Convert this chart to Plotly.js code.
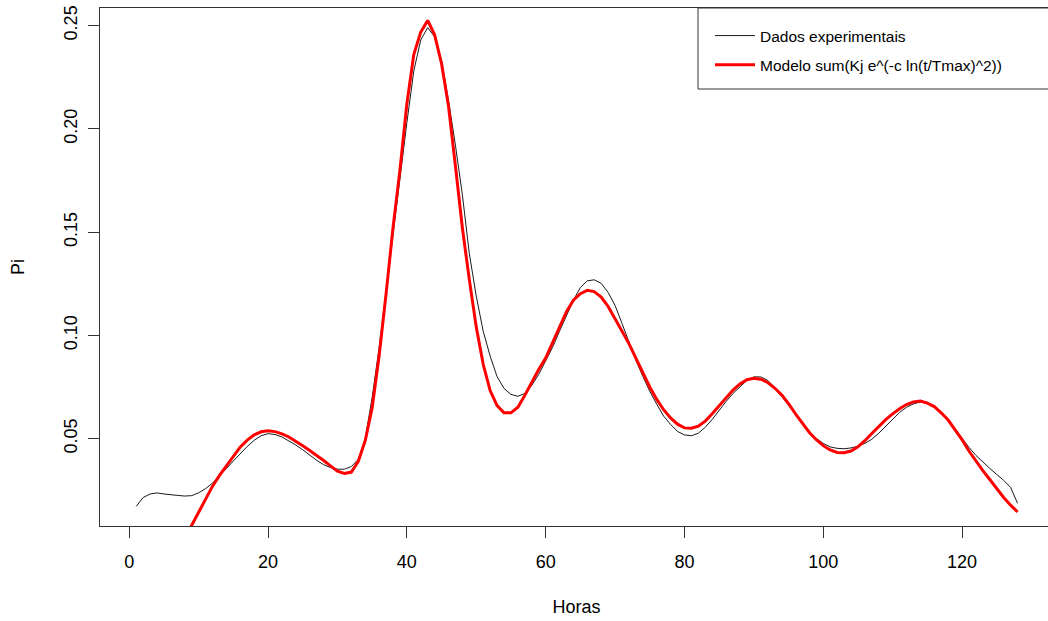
<!DOCTYPE html>
<html>
<head>
<meta charset="utf-8">
<script src="https://cdn.plot.ly/plotly-3.0.1.min.js"></script>
<style>
html, body { margin: 0; padding: 0; overflow: hidden; background: #fff; }
#chart { width: 1056px; height: 621px; }
</style>
</head>
<body>
<div id="chart"></div>
<script>
// Hours (x values)
const horas = Array.from({length: 128}, (_, i) => i + 1);

const dadosExperimentais = [
  0.0172, 0.0215, 0.0232, 0.0237, 0.0232, 0.0227, 0.0225, 0.0222, 0.0224, 0.0238,
  0.0258, 0.0285, 0.0318, 0.0355, 0.0392, 0.0428, 0.0462, 0.0492, 0.0514, 0.0524,
  0.0520, 0.0508, 0.0490, 0.0469, 0.0446, 0.0420, 0.0395, 0.0374, 0.0360, 0.0352,
  0.0352, 0.0365, 0.0400, 0.0500, 0.0700, 0.0940, 0.1220, 0.1500, 0.1780, 0.2030,
  0.2280, 0.2430, 0.2490, 0.2445, 0.2333, 0.2138, 0.1920, 0.1680, 0.1396, 0.1190,
  0.1020, 0.0900, 0.0800, 0.0743, 0.0714, 0.0705, 0.0719, 0.0758, 0.0811, 0.0874,
  0.0942, 0.1020, 0.1092, 0.1170, 0.1232, 0.1264, 0.1269, 0.1252, 0.1208, 0.1145,
  0.1058, 0.0966, 0.0879, 0.0802, 0.0729, 0.0667, 0.0609, 0.0569, 0.0535, 0.0518,
  0.0514, 0.0526, 0.0555, 0.0593, 0.0637, 0.0680, 0.0719, 0.0753, 0.0782, 0.0799,
  0.0799, 0.0782, 0.0748, 0.0705, 0.0661, 0.0613, 0.0574, 0.0535, 0.0501, 0.0477,
  0.0460, 0.0453, 0.0451, 0.0455, 0.0463, 0.0477, 0.0497, 0.0526, 0.0560, 0.0593,
  0.0627, 0.0652, 0.0668, 0.0678, 0.0676, 0.0656, 0.0622, 0.0584, 0.0545, 0.0501,
  0.0458, 0.0419, 0.0385, 0.0356, 0.0327, 0.0298, 0.0264, 0.0187
];

// Model sum(Kj e^(-c ln(t/Tmax)^2)), t = 1..128
const modelo = [
  0.0001, 0.0002, 0.0004, 0.0006, 0.0009, 0.0013, 0.0018, 0.0025, 0.0081, 0.0145,
  0.0210, 0.0270, 0.0322, 0.0370, 0.0418, 0.0460, 0.0493, 0.0518, 0.0533, 0.0538,
  0.0534, 0.0523, 0.0508, 0.0488, 0.0465, 0.0442, 0.0419, 0.0394, 0.0368, 0.0342,
  0.0331, 0.0338, 0.0390, 0.0490, 0.0650, 0.0900, 0.1200, 0.1520, 0.1800, 0.2120,
  0.2360, 0.2468, 0.2525, 0.2455, 0.2315, 0.2110, 0.1820, 0.1520, 0.1270, 0.1040,
  0.0860, 0.0733, 0.0660, 0.0625, 0.0625, 0.0652, 0.0710, 0.0775, 0.0835, 0.0890,
  0.0965, 0.1040, 0.1115, 0.1170, 0.1202, 0.1218, 0.1212, 0.1185, 0.1140, 0.1080,
  0.1020, 0.0960, 0.0890, 0.0820, 0.0750, 0.0690, 0.0640, 0.0600, 0.0570, 0.0552,
  0.0550, 0.0560, 0.0585, 0.0620, 0.0660, 0.0700, 0.0735, 0.0765, 0.0785, 0.0792,
  0.0788, 0.0772, 0.0745, 0.0712, 0.0670, 0.0620, 0.0573, 0.0530, 0.0495, 0.0466,
  0.0445, 0.0433, 0.0432, 0.0440, 0.0460, 0.0490, 0.0525, 0.0560, 0.0592, 0.0620,
  0.0645, 0.0665, 0.0678, 0.0682, 0.0672, 0.0655, 0.0625, 0.0590, 0.0545, 0.0495,
  0.0440, 0.0390, 0.0345, 0.0302, 0.0258, 0.0215, 0.0178, 0.0145
];

const xTicks = [0, 20, 40, 60, 80, 100, 120];
const yTicks = [0.05, 0.10, 0.15, 0.20, 0.25];
const yTickLabels = ["0.05", "0.10", "0.15", "0.20", "0.25"];

const FONT = "Liberation Sans, Arial, Helvetica, sans-serif";

const traces = [
  {
    x: horas, y: dadosExperimentais, type: "scatter", mode: "lines",
    name: "Dados experimentais", legendgroup: "a",
    line: {color: "#1a1a1a", width: 1}
  },
  {
    x: horas, y: modelo, type: "scatter", mode: "lines",
    name: "Modelo sum(Kj e^(-c ln(t/Tmax)^2))", legendgroup: "b",
    line: {color: "#ff0000", width: 3}
  }
];

const W = 1056, H = 621;
const ML = 100, MR = 3, MT = 8, MB = 95;
const PW = W - ML - MR, PH = H - MT - MB;
function px2paperX(px) { return (px - ML) / PW; }
function px2paperY(py) { return 1 - (py - MT) / PH; }

const layout = {
  width: W, height: H,
  margin: {l: ML, r: MR, t: MT, b: MB, pad: 0},
  paper_bgcolor: "#ffffff", plot_bgcolor: "#ffffff",
  font: {family: FONT, size: 18, color: "#000"},
  showlegend: true,
  legend: {
    x: px2paperX(710), y: px2paperY(19), xanchor: "left", yanchor: "top",
    bgcolor: "rgba(0,0,0,0)", borderwidth: 0,
    font: {family: FONT, size: 15.5, color: "#000"},
    traceorder: "grouped", tracegroupgap: 6, itemwidth: 40
  },
  shapes: [
    {type: "rect", xref: "paper", yref: "paper",
     x0: px2paperX(698), x1: px2paperX(1053), y0: px2paperY(89), y1: 1,
     line: {color: "#333", width: 1}, fillcolor: "rgba(255,255,255,1)", layer: "below"}
  ],
  xaxis: {
    range: [-4.22, 133.11], tickmode: "array", tickvals: xTicks,
    ticks: "outside", ticklen: 11, tickwidth: 1, tickcolor: "#333",
    showline: true, linecolor: "#333", linewidth: 1, mirror: true,
    showgrid: false, zeroline: false,
    tickfont: {family: FONT, size: 18, color: "#000"},
    ticklabelstandoff: 8,
    title: {text: "Horas", font: {family: FONT, size: 18, color: "#000"}, standoff: 29},
    automargin: false
  },
  yaxis: {
    range: [0.0077, 0.2585], tickmode: "array", tickvals: yTicks, ticktext: yTickLabels,
    ticks: "outside", ticklen: 11, tickwidth: 1, tickcolor: "#333",
    showline: true, linecolor: "#333", linewidth: 1, mirror: true,
    showgrid: false, zeroline: false, tickangle: -90,
    tickfont: {family: FONT, size: 18, color: "#000"},
    ticklabelstandoff: 4,
    title: {text: "Pi", font: {family: FONT, size: 18, color: "#000"}, standoff: 31},
    automargin: false
  }
};

Plotly.newPlot("chart", traces, layout, {displayModeBar: false, staticPlot: true});
</script>
</body>
</html>
